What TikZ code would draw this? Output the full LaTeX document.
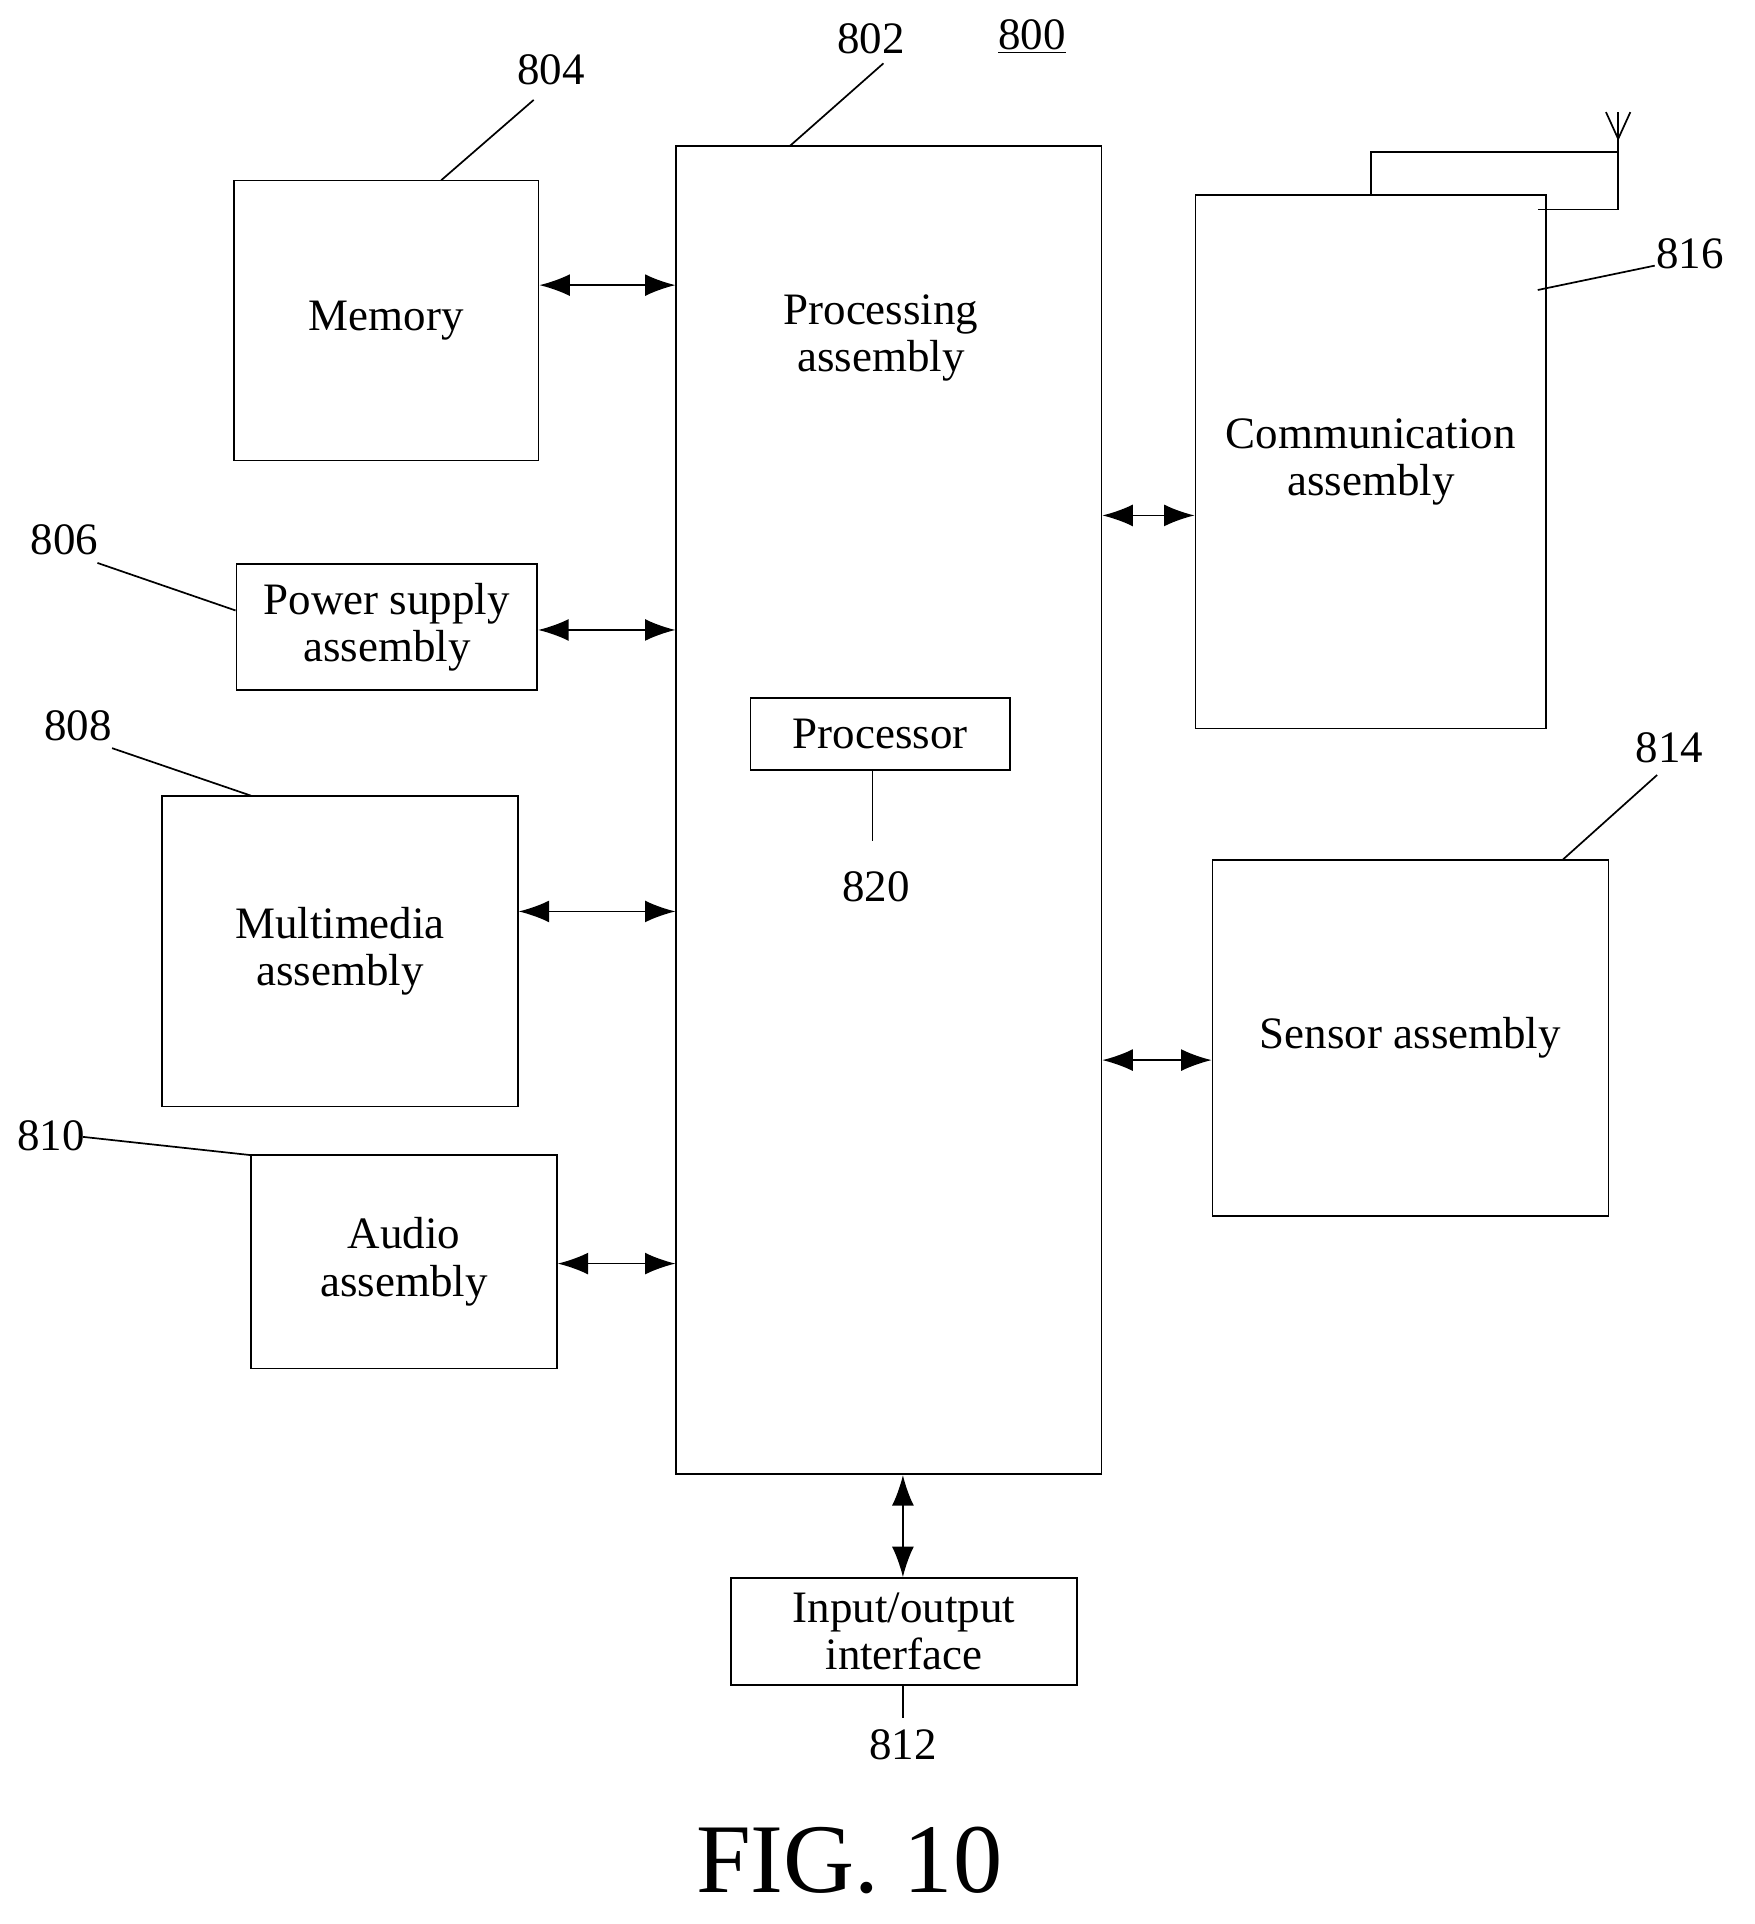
\documentclass[tikz,border=0pt]{standalone}
\usepackage{fontspec}
\setmainfont{Liberation Serif}
\usetikzlibrary{arrows.meta}
\tikzset{%
  >={Latex[width=3.6mm,length=5mm]},
  % styles for the blocks and labels
        block/.style = {rectangle, draw=black, line width=0.8pt,
                        align=center, font=\fontsize{21}{22}\selectfont},
          num/.style = {font=\fontsize{21}{22}\selectfont, inner sep=1pt},
       leader/.style = {line width=0.8pt},
         link/.style = {<->, line width=0.8pt},
}
\begin{document}
\begin{tikzpicture}[x=0.02cm, y=-0.02cm]
  \useasboundingbox (0,0) rectangle (1440,1579);
  % blocks
  \node (proc)  [block, minimum width=6.98cm, minimum height=21.8cm] at (729.5,665) {};
  \node (proctext) [font=\fontsize{21}{22}\selectfont, align=center] at (723,277) {Processing\\assembly};
  \node (memory) [block, minimum width=5cm, minimum height=4.6cm] at (317,263) {Memory};
  \node (power) [block, minimum width=4.94cm, minimum height=2.06cm] at (317.5,514.5) {Power supply\\assembly};
  \node (media) [block, minimum width=5.84cm, minimum height=5.1cm] at (279,780.5) {Multimedia\\assembly};
  \node (audio) [block, minimum width=5.02cm, minimum height=3.5cm] at (331.5,1035.5) {Audio\\assembly};
  \node (comm)  [block, minimum width=5.76cm, minimum height=8.76cm] at (1125,379) {Communication\\assembly};
  \node (sensor) [block, minimum width=6.5cm, minimum height=5.84cm] at (1157.5,852) {Sensor assembly};
  \node (cpu)   [block, minimum width=4.26cm, minimum height=1.18cm] at (722.5,602.5) {Processor};
  \node (io)    [block, minimum width=5.68cm, minimum height=1.76cm] at (742,1339) {Input/output\\interface};

  % connections
  \draw[link] (memory.east |- 0,234) -- (proc.west |- 0,234);
  \draw[link] (power.east |- 0,517) -- (proc.west |- 0,517);
  \draw[link] (media.east |- 0,748) -- (proc.west |- 0,748);
  \draw[link] (audio.east |- 0,1037) -- (proc.west |- 0,1037);
  \draw[link] (proc.east |- 0,423) -- (comm.west |- 0,423);
  \draw[link] (proc.east |- 0,870) -- (sensor.west |- 0,870);
  \draw[link] (proc.south -| 741,0) -- (io.north -| 741,0);

  % antenna
  \draw[leader] (1125,160) -- (1125,125) -- (1328,125);
  \draw[leader] (1262,172) -- (1328,172) -- (1328,92);
  \draw[leader] (1318,92) -- (1328,114) -- (1338,92);

  % reference numerals
  \node (n804) [num] at (452,57) {804};
  \node (n802) [num] at (715,32) {802};
  \node (n800) [num] at (847,30) {\underline{800}};
  \node (n816) [num] at (1387,208) {816};
  \node (n806) [num] at (53,443) {806};
  \node (n808) [num] at (64,596) {808};
  \node (n810) [num] at (42,932) {810};
  \node (n814) [num] at (1370,614) {814};
  \node (n820) [num] at (719,728) {820};
  \node (n812) [num] at (741,1432) {812};
  \node (fig) [font=\fontsize{46}{48}\selectfont] at (697,1527) {FIG. 10};

  \draw[leader] (438,82) -- (362,148);
  \draw[leader] (725,52) -- (648,120);
  \draw[leader] (1358,218) -- (1262,238);
  \draw[leader] (80,462) -- (power.west |- 0,501);
  \draw[leader] (92,614) -- (206,653);
  \draw[leader] (68,933) -- (206,948);
  \draw[leader] (1360,636) -- (1282,706);
  \draw[leader] (cpu.south -| 716,0) -- (716,690);
  \draw[leader] (io.south -| 741,0) -- (741,1410);
\end{tikzpicture}
\end{document}
